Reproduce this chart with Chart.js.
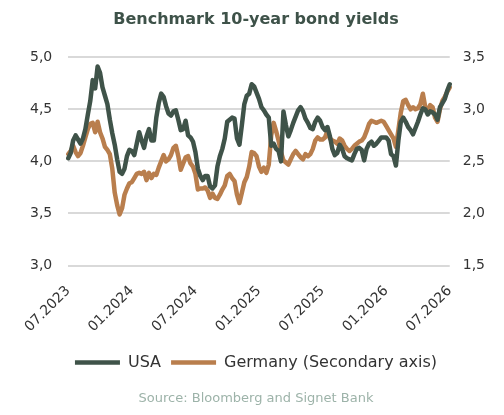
<!DOCTYPE html>
<html>
<head>
<meta charset="utf-8">
<script src="https://cdn.jsdelivr.net/npm/chart.js@4.4.1/dist/chart.umd.min.js"></script>
<style>
  html, body { margin: 0; padding: 0; background: #fff; }
  #wrap { width: 504px; height: 415px; }
</style>
</head>
<body>
<div id="wrap"><canvas id="yieldChart"></canvas></div>
<script>
// Weekly data, 07.2023 - 07.2026
const tickLabels = ['07.2023', '01.2024', '07.2024', '01.2025', '07.2025', '01.2026', '07.2026'];

// USA 10y, left axis
const usaYield = [
  4.03, 4.08, 4.20, 4.25, 4.21, 4.17, 4.22, 4.31, 4.45, 4.58,
  4.78, 4.70, 4.91, 4.85, 4.71, 4.63, 4.55, 4.40, 4.27, 4.16,
  4.02, 3.90, 3.88, 3.93, 4.05, 4.11, 4.10, 4.06, 4.17, 4.28,
  4.20, 4.13, 4.24, 4.31, 4.20, 4.20, 4.42, 4.56, 4.65, 4.62,
  4.53, 4.46, 4.44, 4.48, 4.49, 4.40, 4.30, 4.31, 4.39, 4.25,
  4.23, 4.19, 4.09, 3.93, 3.86, 3.82, 3.86, 3.86, 3.76, 3.74,
  3.77, 3.95, 4.05, 4.12, 4.22, 4.38, 4.40, 4.42, 4.41, 4.22,
  4.16, 4.35, 4.55, 4.63, 4.65, 4.74, 4.72, 4.66, 4.60, 4.52,
  4.49, 4.45, 4.42, 4.15, 4.17, 4.12, 4.10, 4.00, 4.48, 4.35,
  4.24, 4.30, 4.37, 4.43, 4.49, 4.52, 4.48, 4.41, 4.37, 4.32,
  4.31, 4.38, 4.42, 4.39, 4.33, 4.30, 4.33, 4.24, 4.12, 4.06,
  4.08, 4.16, 4.12, 4.05, 4.03, 4.02, 4.01, 4.07, 4.12, 4.13,
  4.11, 4.01, 4.12, 4.17, 4.19, 4.15, 4.17, 4.20, 4.23, 4.23,
  4.23, 4.20, 4.07, 4.05, 3.96, 4.20, 4.38, 4.42, 4.38, 4.33,
  4.30, 4.26, 4.32, 4.38, 4.45, 4.51, 4.50, 4.45, 4.48, 4.47,
  4.45, 4.40, 4.52, 4.56, 4.60, 4.68, 4.74
];

// Germany 10y, right axis
const germanyYield = [
  2.57, 2.60, 2.65, 2.59, 2.55, 2.58, 2.65, 2.73, 2.81, 2.86,
  2.87, 2.78, 2.88, 2.78, 2.72, 2.64, 2.61, 2.57, 2.43, 2.20,
  2.08, 1.99, 2.05, 2.18, 2.24, 2.29, 2.30, 2.34, 2.38, 2.39,
  2.38, 2.40, 2.32, 2.39, 2.34, 2.38, 2.37, 2.44, 2.50, 2.56,
  2.50, 2.52, 2.56, 2.63, 2.65, 2.55, 2.42, 2.48, 2.54, 2.55,
  2.48, 2.45, 2.38, 2.23, 2.24, 2.24, 2.25, 2.22, 2.15, 2.19,
  2.15, 2.14, 2.18, 2.23, 2.27, 2.36, 2.38, 2.34, 2.31, 2.18,
  2.10, 2.20, 2.30, 2.35, 2.45, 2.59, 2.58, 2.55, 2.45, 2.40,
  2.44, 2.39, 2.47, 2.75, 2.87, 2.79, 2.70, 2.59, 2.51, 2.49,
  2.47, 2.52, 2.57, 2.60, 2.57, 2.54, 2.52, 2.57, 2.55, 2.57,
  2.62, 2.70, 2.73, 2.71, 2.71, 2.73, 2.79, 2.72, 2.70, 2.69,
  2.67, 2.72, 2.70, 2.65, 2.62, 2.60, 2.62, 2.65, 2.67, 2.69,
  2.70, 2.73, 2.79, 2.86, 2.89, 2.88, 2.87, 2.88, 2.89, 2.88,
  2.84, 2.80, 2.76, 2.72, 2.64, 2.80, 2.97, 3.08, 3.09, 3.04,
  3.00, 3.02, 3.00, 3.01, 3.05, 3.15, 3.02, 2.98, 3.04, 3.02,
  2.92, 2.88, 3.00, 3.08, 3.12, 3.17, 3.21
];

// one category per week, label only every 26 weeks
const weeks = usaYield.map((v, i) => (i % 26 === 0 ? tickLabels[i / 26] : ''));

const fmt = v => v.toFixed(1).replace('.', ',');
const FONT = 'DejaVu Sans';

const ctx = document.getElementById('yieldChart').getContext('2d');
new Chart(ctx, {
    type: 'line',
    data: {
        labels: weeks,
        datasets: [{
            label: 'USA',
            data: usaYield,
            yAxisID: 'y',
            borderColor: '#3f5349',
            backgroundColor: '#3f5349',
            borderWidth: 4.5,
            borderCapStyle: 'round',
            borderJoinStyle: 'round',
            pointRadius: 0,
            tension: 0
        }, {
            label: 'Germany (Secondary axis)',
            data: germanyYield,
            yAxisID: 'y1',
            borderColor: '#b97e4d',
            backgroundColor: '#b97e4d',
            borderWidth: 4.5,
            borderCapStyle: 'round',
            borderJoinStyle: 'round',
            pointRadius: 0,
            tension: 0
        }]
    },
    options: {
        responsive: true,
        maintainAspectRatio: false,
        animation: false,
        layout: { padding: { left: 14, right: 6, top: 7, bottom: 9 } },
        plugins: {
            title: {
                display: true,
                text: 'Benchmark 10-year bond yields',
                color: '#3e5249',
                font: { family: FONT, size: 16, weight: 'bold' },
                padding: { top: 3, bottom: 28 }
            },
            subtitle: {
                display: true,
                position: 'bottom',
                text: 'Source: Bloomberg and Signet Bank',
                color: '#9db3a9',
                font: { family: FONT, size: 13 },
                padding: { top: 10, bottom: 0 }
            },
            legend: {
                position: 'bottom',
                labels: {
                    usePointStyle: true,
                    pointStyle: 'line',
                    pointStyleWidth: 45,
                    color: '#333',
                    font: { family: FONT, size: 16 },
                    padding: 10
                }
            },
            tooltip: { enabled: false }
        },
        scales: {
            x: {
                grid: { display: false },
                border: { display: false },
                ticks: {
                    autoSkip: false,
                    minRotation: 45,
                    maxRotation: 45,
                    padding: 9,
                    color: '#333',
                    font: { family: FONT, size: 14 }
                }
            },
            y: {
                position: 'left',
                min: 3,
                max: 5,
                grid: { color: '#d9d9d9', lineWidth: 2, drawTicks: false },
                border: { display: false },
                ticks: {
                    stepSize: 0.5,
                    padding: 16,
                    color: '#333',
                    font: { family: FONT, size: 14 },
                    callback: fmt
                }
            },
            y1: {
                position: 'right',
                min: 1.5,
                max: 3.5,
                grid: { drawOnChartArea: false, drawTicks: false },
                border: { display: false },
                ticks: {
                    stepSize: 0.5,
                    padding: 13,
                    color: '#333',
                    font: { family: FONT, size: 14 },
                    callback: fmt
                }
            }
        }
    }
});
</script>
</body>
</html>
